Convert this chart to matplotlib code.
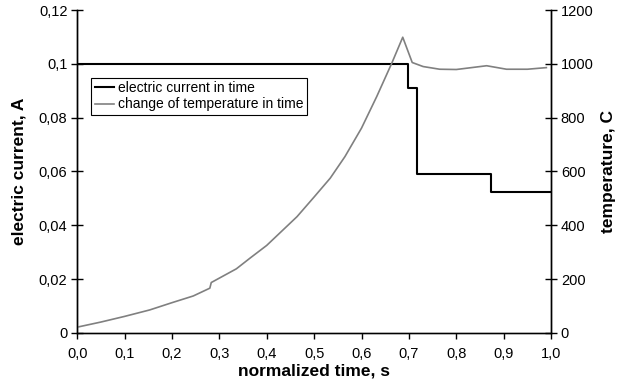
import matplotlib
matplotlib.use('Agg')
import matplotlib.pyplot as plt

plt.rcParams['font.family'] = ['Liberation Sans', 'DejaVu Sans']

# electric current (step function), A
time_current = [0.0, 0.698, 0.718, 0.874, 1.0]
current = [0.1, 0.091, 0.059, 0.0525, 0.0525]

# temperature, C
time_temp = [0.0, 0.05, 0.1, 0.153, 0.2, 0.245, 0.28, 0.283, 0.336, 0.365,
             0.4, 0.464, 0.5, 0.534, 0.565, 0.6, 0.632, 0.664, 0.687, 0.707,
             0.73, 0.765, 0.8, 0.864, 0.906, 0.95, 0.99]
temperature = [21, 40, 61, 85, 112, 137, 166, 187, 238, 278,
               325, 432, 505, 575, 655, 761, 878, 1003, 1099, 1005,
               990, 980, 979, 993, 980, 980, 986]

x_ticks = [0.0, 0.1, 0.2, 0.3, 0.4, 0.5, 0.6, 0.7, 0.8, 0.9, 1.0]
x_labels = ['0,0', '0,1', '0,2', '0,3', '0,4', '0,5', '0,6', '0,7', '0,8', '0,9', '1,0']
y_ticks = [0, 0.02, 0.04, 0.06, 0.08, 0.1, 0.12]
y_labels = ['0', '0,02', '0,04', '0,06', '0,08', '0,1', '0,12']
t_ticks = [0, 200, 400, 600, 800, 1000, 1200]

TICK_FS = 10.5
LABEL_FS = 12.5

fig = plt.figure(figsize=(6.22, 3.87), dpi=100)
ax = fig.add_axes([0.124, 0.14, 0.762, 0.834])
ax2 = ax.twinx()

l1, = ax.step(time_current, current, where='post', color='black', lw=1.5,
              label='electric current in time')
l2, = ax2.plot(time_temp, temperature, color='#808080', lw=1.2,
               label='change of temperature in time')

ax.set_xlim(0, 1)
ax.set_ylim(0, 0.12)
ax2.set_ylim(0, 1200)

ax.set_xticks(x_ticks)
ax.set_xticklabels(x_labels)
ax.set_yticks(y_ticks)
ax.set_yticklabels(y_labels)
ax2.set_yticks(t_ticks)

ax.tick_params(axis='x', direction='out', length=4, width=1, labelsize=TICK_FS, pad=6)
ax.tick_params(axis='y', direction='inout', length=8, width=1, labelsize=TICK_FS, pad=3)
ax2.tick_params(axis='y', direction='inout', length=8, width=1, labelsize=TICK_FS, pad=3)

for a in (ax, ax2):
    a.spines['top'].set_visible(False)
    for s in ('left', 'right', 'bottom'):
        a.spines[s].set_linewidth(1)
ax.spines['bottom'].set_color('#404040')

ax.set_xlabel('normalized time, s', fontsize=LABEL_FS, fontweight='bold', labelpad=2)
ax.set_ylabel('electric current, A', fontsize=LABEL_FS, fontweight='bold', labelpad=9)
ax2.set_ylabel('temperature, C', fontsize=LABEL_FS, fontweight='bold', labelpad=5)

leg = ax2.legend(handles=[l1, l2], loc='upper left', bbox_to_anchor=(0.03, 0.79),
                 fontsize=10, frameon=True, fancybox=False, framealpha=1,
                 edgecolor='black', handlelength=1.4, handletextpad=0.3,
                 borderpad=0.25, labelspacing=0.15, borderaxespad=0)
leg.get_frame().set_linewidth(0.8)

fig.savefig('out.png', dpi=100)
